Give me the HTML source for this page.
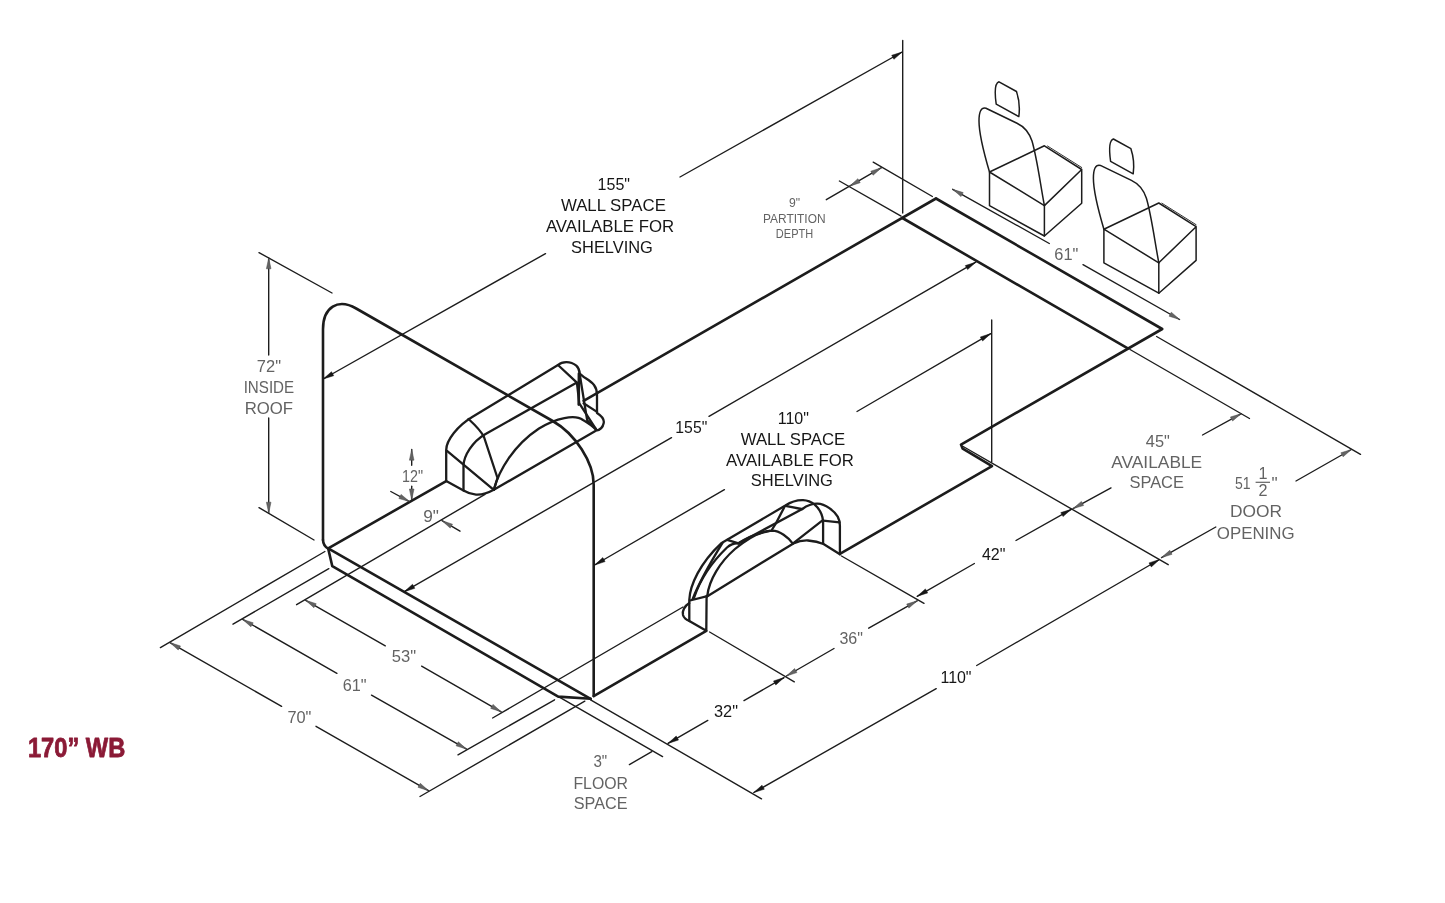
<!DOCTYPE html>
<html lang="en"><head><meta charset="utf-8"><title>170&quot; WB cargo dimensions</title>
<style>
html,body{margin:0;padding:0;background:#fff}
body{width:1445px;height:903px;overflow:hidden}
svg{display:block;transform:translateZ(0);will-change:transform}
svg path{fill:none;stroke-linecap:round;stroke-linejoin:round}
svg text{font-family:"Liberation Sans",sans-serif}
</style></head><body>
<svg width="1445" height="903" viewBox="0 0 1445 903">
<rect width="1445" height="903" fill="#fff"/>
<path d="M323,540 L323,329.3 C323,307.3 337.9,298 356.2,308.5 L552.7,421 C575.3,433.9 593.7,462.4 593.7,484.7 L593.7,696" stroke="#1c1c1c" stroke-width="2.6"/>
<path d="M323,540 Q323.2,545.8 328.2,548.6 L332.3,566.2 L558.2,696.6 L590.6,698.8" stroke="#1c1c1c" stroke-width="2.6"/>
<path d="M328.2,548.4 L590.6,698.8" stroke="#1c1c1c" stroke-width="2.6"/>
<path d="M328.2,548.4 L446.2,481.1" stroke="#1c1c1c" stroke-width="2.6"/>
<path d="M583.6,400.9 L936,198.5" stroke="#1c1c1c" stroke-width="2.6"/>
<path d="M936,198.5 L1162.2,329 L961,444.6 L962.7,448.7 L992,466.1 L840.3,553.6" stroke="#1c1c1c" stroke-width="2.6"/>
<path d="M902.4,218 L1127.8,348.4" stroke="#1c1c1c" stroke-width="2.6"/>
<path d="M706.3,630.8 L593.7,696.2" stroke="#1c1c1c" stroke-width="2.6"/>
<path d="M446.2,481.1 L446.2,450 C446.2,440.3 457.9,425.5 472.2,417 L558,365 C562,361.5 570,360.5 576.3,365.6 C579,368 579.5,371 579.8,373.5 C583,377.5 590,380 594,385 C596.6,388.5 597,391 597,394.8 L597,413 C601,415.5 604.5,419 603.7,423 C603,427 600,430 595.8,430.7 L493.8,489.8 C488,493 482,495 476,494.6 C470,494.2 466,492 463.5,490.5 L446.2,481.1" stroke="#1c1c1c" stroke-width="2.3"/>
<path d="M463.5,490.5 L463.5,466 C463.5,455.6 473,441.4 484.7,434.5 L576.9,382.6" stroke="#1c1c1c" stroke-width="2.3"/>
<path d="M447,450.9 L493.8,489.8" stroke="#1c1c1c" stroke-width="2.3"/>
<path d="M468.5,419 C474,424 481,431 484,437 L497.5,478 L493.8,489.8" stroke="#1c1c1c" stroke-width="2.3"/>
<path d="M493.8,489.8 C499,470 514,445 539,428.5 C556,418 575,414 583,420 C589,423.5 593,426.5 595.8,429.5" stroke="#1c1c1c" stroke-width="2.3"/>
<path d="M558,365 L576.9,382.6 L579.3,403.3 L595.8,428.9" stroke="#1c1c1c" stroke-width="2.3"/>
<path d="M578.9,373.5 L578.7,404.6" stroke="#1c1c1c" stroke-width="2.6"/>
<path d="M580,376 L587.2,420.4 L595.8,428.9" stroke="#1c1c1c" stroke-width="2.3"/>
<path d="M583.6,403.3 L597,411.9" stroke="#1c1c1c" stroke-width="2.3"/>
<path d="M689.3,621 L689.3,599.8 C690,585 700,563 721.2,543.3 L785.4,505.5 C790,502.5 797,500 803.1,500.2 C808,500.4 812,502.5 814.7,504.6 C819,508.5 822.5,515 823.1,521 L823.1,543.5" stroke="#1c1c1c" stroke-width="2.3"/>
<path d="M689.3,603 C684.5,606 682,611 683,615 C684,618.5 686.5,620 689.3,621 L706.3,630.8 L706.6,596" stroke="#1c1c1c" stroke-width="2.3"/>
<path d="M692.6,599.1 C700,580 712,560 722.5,542.9" stroke="#1c1c1c" stroke-width="2.3"/>
<path d="M694,597.8 C700,580 712,562 727,547.5 C731,544 735,543 738.5,543.3 L802.3,509" stroke="#1c1c1c" stroke-width="2.3"/>
<path d="M727.2,539.9 L738.5,543.3" stroke="#1c1c1c" stroke-width="2.3"/>
<path d="M738.5,543.3 C746,538 756,533.5 770,530.8" stroke="#1c1c1c" stroke-width="2.3"/>
<path d="M707.3,595.8 C709,580 720,562 735,549 C748,538 762,531 772,530.7 C780,530.8 788,537 792.8,543.6" stroke="#1c1c1c" stroke-width="2.3"/>
<path d="M690,600.5 L707.3,596.2" stroke="#1c1c1c" stroke-width="2.3"/>
<path d="M707,596.5 L793.4,543.4 C798,541.3 803,540.3 808,540.5 C814,541 820,542.5 823.5,544 L839.9,554.3" stroke="#1c1c1c" stroke-width="2.3"/>
<path d="M802.3,509 C808,505 813,503.6 817.3,503.7 C826,504 834,511 837.7,516.6 C839.5,520 839.9,523 839.9,525.4 L839.9,554.3" stroke="#1c1c1c" stroke-width="2.3"/>
<path d="M823.1,520.6 L839.5,522.3" stroke="#1c1c1c" stroke-width="2.3"/>
<path d="M793.4,543.1 L822.2,520.6" stroke="#1c1c1c" stroke-width="2.3"/>
<path d="M785.4,505.9 L801.4,509" stroke="#1c1c1c" stroke-width="2.3"/>
<path d="M784.5,506.8 L775.7,523.7 L772.1,529.5" stroke="#1c1c1c" stroke-width="2.3"/>
<path d="M996.2,104.2 C994.5,92 995,83 999,81.8 L1016.5,91.5 C1019,99 1020,108 1018.8,116.6 Z" stroke="#1c1c1c" stroke-width="1.5"/>
<path d="M989.5,172 C983,150 979,134 979,121 C979,112 981,107 986,108.2 L1017,123.2 C1024,126.5 1029,132 1032,141 C1037,158 1040,182 1044.4,205.6" stroke="#1c1c1c" stroke-width="1.5"/>
<path d="M989.5,172 L1044.4,145.8 L1081.7,169.5 L1044.4,205.6 L989.5,172 L989.5,205.6 L1044.4,236 L1081.7,203.2 L1081.7,169.5" stroke="#1c1c1c" stroke-width="1.5"/>
<path d="M1044.4,205.6 L1044.4,236" stroke="#1c1c1c" stroke-width="1.5"/>
<path d="M1047.5,146 L1081.7,167.5" stroke="#1c1c1c" stroke-width="0.9"/>
<path d="M1110.6,161.4 C1108.9,149.2 1109.4,140.2 1113.4,139 L1130.9,148.7 C1133.4,156.2 1134.4,165.2 1133.2,173.8 Z" stroke="#1c1c1c" stroke-width="1.5"/>
<path d="M1103.9,229.2 C1097.4,207.2 1093.4,191.2 1093.4,178.2 C1093.4,169.2 1095.4,164.2 1100.4,165.4 L1131.4,180.4 C1138.4,183.7 1143.4,189.2 1146.4,198.2 C1151.4,215.2 1154.4,239.2 1158.8,262.8" stroke="#1c1c1c" stroke-width="1.5"/>
<path d="M1103.9,229.2 L1158.8,203 L1196.1,226.7 L1158.8,262.8 L1103.9,229.2 L1103.9,262.8 L1158.8,293.2 L1196.1,260.4 L1196.1,226.7" stroke="#1c1c1c" stroke-width="1.5"/>
<path d="M1158.8,262.8 L1158.8,293.2" stroke="#1c1c1c" stroke-width="1.5"/>
<path d="M1161.9,203.2 L1196.1,224.7" stroke="#1c1c1c" stroke-width="0.9"/>
<path d="M259,252.6 L332,293" stroke="#1c1c1c" stroke-width="1.38"/>
<path d="M259,507.6 L314,540" stroke="#1c1c1c" stroke-width="1.38"/>
<path d="M268.7,258 L268.7,355" stroke="#1c1c1c" stroke-width="1.38"/>
<polygon points="268.7,258 271,268.8 266.4,268.8" fill="#636363" stroke="#4a4a4a" stroke-width="0.5" stroke-linejoin="miter"/>
<path d="M268.7,513 L268.7,418" stroke="#1c1c1c" stroke-width="1.38"/>
<polygon points="268.7,513 266.4,502.2 271,502.2" fill="#636363" stroke="#4a4a4a" stroke-width="0.5" stroke-linejoin="miter"/>
<text x="268.9" y="371.5" font-size="17.3" fill="#636363" text-anchor="middle" textLength="24.2" lengthAdjust="spacingAndGlyphs">72"</text>
<text x="268.9" y="392.6" font-size="17.3" fill="#636363" text-anchor="middle" textLength="50.5" lengthAdjust="spacingAndGlyphs">INSIDE</text>
<text x="268.9" y="413.6" font-size="17.3" fill="#636363" text-anchor="middle" textLength="48.4" lengthAdjust="spacingAndGlyphs">ROOF</text>
<path d="M323.2,379 L545.5,253.6" stroke="#1c1c1c" stroke-width="1.38"/>
<polygon points="323.2,379 331.5,371.7 333.7,375.7" fill="#161616" stroke="#161616" stroke-width="0.5" stroke-linejoin="miter"/>
<path d="M902.2,52 L680,177" stroke="#1c1c1c" stroke-width="1.38"/>
<polygon points="902.2,52 893.9,59.3 891.7,55.3" fill="#161616" stroke="#161616" stroke-width="0.5" stroke-linejoin="miter"/>
<path d="M902.7,40.5 L902.7,213" stroke="#1c1c1c" stroke-width="1.38"/>
<text x="613.8" y="190.3" font-size="17.3" fill="#161616" text-anchor="middle" textLength="32.4" lengthAdjust="spacingAndGlyphs">155"</text>
<text x="613.4" y="211.1" font-size="17.3" fill="#161616" text-anchor="middle" textLength="105" lengthAdjust="spacingAndGlyphs">WALL SPACE</text>
<text x="610" y="232.1" font-size="17.3" fill="#161616" text-anchor="middle" textLength="128.2" lengthAdjust="spacingAndGlyphs">AVAILABLE FOR</text>
<text x="612" y="253.2" font-size="17.3" fill="#161616" text-anchor="middle" textLength="81.8" lengthAdjust="spacingAndGlyphs">SHELVING</text>
<path d="M839.4,181 L901.1,216.1" stroke="#1c1c1c" stroke-width="1.38"/>
<path d="M873.2,162.1 L932.4,196.5" stroke="#1c1c1c" stroke-width="1.38"/>
<path d="M826.3,199.7 L881.5,167.7" stroke="#1c1c1c" stroke-width="1.38"/>
<polygon points="849.5,186.2 857.9,178.7 860.2,182.7" fill="#636363" stroke="#4a4a4a" stroke-width="0.5" stroke-linejoin="miter"/>
<polygon points="881.5,167.7 873.1,175.2 870.8,171.2" fill="#636363" stroke="#4a4a4a" stroke-width="0.5" stroke-linejoin="miter"/>
<text x="794.5" y="207" font-size="12.8" fill="#636363" text-anchor="middle" textLength="11.1" lengthAdjust="spacingAndGlyphs">9"</text>
<text x="794.3" y="222.7" font-size="12.8" fill="#636363" text-anchor="middle" textLength="62.5" lengthAdjust="spacingAndGlyphs">PARTITION</text>
<text x="794.5" y="238.4" font-size="12.8" fill="#636363" text-anchor="middle" textLength="37.3" lengthAdjust="spacingAndGlyphs">DEPTH</text>
<path d="M952.7,189.3 L1049.3,243.5" stroke="#1c1c1c" stroke-width="1.38"/>
<polygon points="952.7,189.3 963.2,192.6 961,196.6" fill="#636363" stroke="#4a4a4a" stroke-width="0.5" stroke-linejoin="miter"/>
<path d="M1179.6,319.5 L1083,264.7" stroke="#1c1c1c" stroke-width="1.38"/>
<polygon points="1179.6,319.5 1169.1,316.2 1171.3,312.2" fill="#636363" stroke="#4a4a4a" stroke-width="0.5" stroke-linejoin="miter"/>
<text x="1066.3" y="260.1" font-size="17.3" fill="#636363" text-anchor="middle" textLength="24" lengthAdjust="spacingAndGlyphs">61"</text>
<path d="M404.3,591.7 L671.5,437.6" stroke="#1c1c1c" stroke-width="1.38"/>
<polygon points="404.3,591.7 412.5,584.3 414.8,588.3" fill="#161616" stroke="#161616" stroke-width="0.5" stroke-linejoin="miter"/>
<path d="M975.8,262.2 L709,416.3" stroke="#1c1c1c" stroke-width="1.38"/>
<polygon points="975.8,262.2 967.6,269.6 965.3,265.6" fill="#161616" stroke="#161616" stroke-width="0.5" stroke-linejoin="miter"/>
<text x="691.3" y="432.9" font-size="17.3" fill="#161616" text-anchor="middle" textLength="31.9" lengthAdjust="spacingAndGlyphs">155"</text>
<path d="M594.6,565 L724.4,489.6" stroke="#1c1c1c" stroke-width="1.38"/>
<polygon points="594.6,565 602.8,557.6 605.1,561.6" fill="#161616" stroke="#161616" stroke-width="0.5" stroke-linejoin="miter"/>
<path d="M990.8,333.6 L857,411.5" stroke="#1c1c1c" stroke-width="1.38"/>
<polygon points="990.8,333.6 982.6,341 980.3,337" fill="#161616" stroke="#161616" stroke-width="0.5" stroke-linejoin="miter"/>
<path d="M991.7,320 L991.7,462" stroke="#1c1c1c" stroke-width="1.38"/>
<text x="793.3" y="424.2" font-size="17.3" fill="#161616" text-anchor="middle" textLength="31.3" lengthAdjust="spacingAndGlyphs">110"</text>
<text x="793" y="444.8" font-size="17.3" fill="#161616" text-anchor="middle" textLength="104.6" lengthAdjust="spacingAndGlyphs">WALL SPACE</text>
<text x="790" y="465.6" font-size="17.3" fill="#161616" text-anchor="middle" textLength="127.9" lengthAdjust="spacingAndGlyphs">AVAILABLE FOR</text>
<text x="791.9" y="486.4" font-size="17.3" fill="#161616" text-anchor="middle" textLength="82.1" lengthAdjust="spacingAndGlyphs">SHELVING</text>
<path d="M1130,349.5 L1249.5,418.5" stroke="#1c1c1c" stroke-width="1.38"/>
<path d="M963.2,446.5 L1168.2,564.7" stroke="#1c1c1c" stroke-width="1.38"/>
<path d="M1241,413.8 L1202.5,435" stroke="#1c1c1c" stroke-width="1.38"/>
<polygon points="1241,413.8 1232.6,421 1230.4,417" fill="#636363" stroke="#4a4a4a" stroke-width="0.5" stroke-linejoin="miter"/>
<path d="M1073,508.6 L1111,487.9" stroke="#1c1c1c" stroke-width="1.38"/>
<polygon points="1073,508.6 1081.4,501.4 1083.6,505.5" fill="#636363" stroke="#4a4a4a" stroke-width="0.5" stroke-linejoin="miter"/>
<text x="1157.8" y="447.1" font-size="17.3" fill="#636363" text-anchor="middle" textLength="24" lengthAdjust="spacingAndGlyphs">45"</text>
<text x="1156.7" y="467.9" font-size="17.3" fill="#636363" text-anchor="middle" textLength="91" lengthAdjust="spacingAndGlyphs">AVAILABLE</text>
<text x="1156.7" y="488.3" font-size="17.3" fill="#636363" text-anchor="middle" textLength="54.5" lengthAdjust="spacingAndGlyphs">SPACE</text>
<path d="M1156.6,336.5 L1360.5,454.3" stroke="#1c1c1c" stroke-width="1.38"/>
<path d="M1351.4,449.5 L1296,481" stroke="#1c1c1c" stroke-width="1.38"/>
<polygon points="1351.4,449.5 1343.1,456.8 1340.9,452.8" fill="#636363" stroke="#4a4a4a" stroke-width="0.5" stroke-linejoin="miter"/>
<path d="M1161.5,557.6 L1215.8,527" stroke="#1c1c1c" stroke-width="1.38"/>
<polygon points="1161.5,557.6 1169.8,550.3 1172,554.3" fill="#636363" stroke="#4a4a4a" stroke-width="0.5" stroke-linejoin="miter"/>
<path d="M1071.3,509.3 L1016,540.5" stroke="#1c1c1c" stroke-width="1.38"/>
<polygon points="1071.3,509.3 1063,516.6 1060.8,512.6" fill="#161616" stroke="#161616" stroke-width="0.5" stroke-linejoin="miter"/>
<path d="M917.2,596.3 L974.4,563.5" stroke="#1c1c1c" stroke-width="1.38"/>
<polygon points="917.2,596.3 925.4,588.9 927.7,592.9" fill="#161616" stroke="#161616" stroke-width="0.5" stroke-linejoin="miter"/>
<text x="993.7" y="559.6" font-size="17.3" fill="#161616" text-anchor="middle" textLength="23.5" lengthAdjust="spacingAndGlyphs">42"</text>
<path d="M841.5,556 L924,603.3" stroke="#1c1c1c" stroke-width="1.38"/>
<path d="M786.4,676 L834,648.5" stroke="#1c1c1c" stroke-width="1.38"/>
<polygon points="786.4,676 794.6,668.6 796.9,672.6" fill="#636363" stroke="#4a4a4a" stroke-width="0.5" stroke-linejoin="miter"/>
<path d="M917.2,600.8 L868.7,628.2" stroke="#1c1c1c" stroke-width="1.38"/>
<polygon points="917.2,600.8 908.9,608.1 906.7,604.1" fill="#636363" stroke="#4a4a4a" stroke-width="0.5" stroke-linejoin="miter"/>
<text x="851.2" y="643.9" font-size="17.3" fill="#636363" text-anchor="middle" textLength="23.5" lengthAdjust="spacingAndGlyphs">36"</text>
<path d="M709.6,632 L794.3,681.8" stroke="#1c1c1c" stroke-width="1.38"/>
<path d="M668,743.4 L707.8,720.4" stroke="#1c1c1c" stroke-width="1.38"/>
<polygon points="668,743.4 676.2,736 678.5,740" fill="#161616" stroke="#161616" stroke-width="0.5" stroke-linejoin="miter"/>
<path d="M784,677.6 L744,700.6" stroke="#1c1c1c" stroke-width="1.38"/>
<polygon points="784,677.6 775.8,685 773.5,681" fill="#161616" stroke="#161616" stroke-width="0.5" stroke-linejoin="miter"/>
<text x="726" y="716.9" font-size="17.3" fill="#161616" text-anchor="middle" textLength="24" lengthAdjust="spacingAndGlyphs">32"</text>
<path d="M590.6,699.8 L761.5,798.8" stroke="#1c1c1c" stroke-width="1.38"/>
<path d="M753.8,792.5 L936.2,688.7" stroke="#1c1c1c" stroke-width="1.38"/>
<polygon points="753.8,792.5 762,785.2 764.3,789.2" fill="#161616" stroke="#161616" stroke-width="0.5" stroke-linejoin="miter"/>
<path d="M1159.5,559.5 L976.7,665.5" stroke="#1c1c1c" stroke-width="1.38"/>
<polygon points="1159.5,559.5 1151.3,566.9 1149,562.9" fill="#161616" stroke="#161616" stroke-width="0.5" stroke-linejoin="miter"/>
<text x="956" y="682.9" font-size="17.3" fill="#161616" text-anchor="middle" textLength="31.1" lengthAdjust="spacingAndGlyphs">110"</text>
<path d="M558.9,696.9 L662.6,756.6" stroke="#1c1c1c" stroke-width="1.38"/>
<path d="M629.4,764.6 L651.8,751.6" stroke="#1c1c1c" stroke-width="1.38"/>
<text x="600.3" y="767" font-size="17.3" fill="#636363" text-anchor="middle" textLength="13.8" lengthAdjust="spacingAndGlyphs">3"</text>
<text x="600.7" y="788.8" font-size="17.3" fill="#636363" text-anchor="middle" textLength="54.6" lengthAdjust="spacingAndGlyphs">FLOOR</text>
<text x="600.7" y="809.2" font-size="17.3" fill="#636363" text-anchor="middle" textLength="53.8" lengthAdjust="spacingAndGlyphs">SPACE</text>
<path d="M683,607 L492.6,718" stroke="#1c1c1c" stroke-width="1.38"/>
<path d="M305.7,600.3 L385.3,645.8" stroke="#1c1c1c" stroke-width="1.38"/>
<polygon points="305.7,600.3 316.2,603.7 313.9,607.7" fill="#636363" stroke="#4a4a4a" stroke-width="0.5" stroke-linejoin="miter"/>
<path d="M501.2,711.8 L421.6,666.2" stroke="#1c1c1c" stroke-width="1.38"/>
<polygon points="501.2,711.8 490.7,708.4 493,704.4" fill="#636363" stroke="#4a4a4a" stroke-width="0.5" stroke-linejoin="miter"/>
<text x="404" y="662" font-size="17.3" fill="#636363" text-anchor="middle" textLength="24.3" lengthAdjust="spacingAndGlyphs">53"</text>
<path d="M554.6,699.8 L458,754.8" stroke="#1c1c1c" stroke-width="1.38"/>
<path d="M328.8,568.7 L233,624.2" stroke="#1c1c1c" stroke-width="1.38"/>
<path d="M242.7,619.4 L336.9,673.3" stroke="#1c1c1c" stroke-width="1.38"/>
<polygon points="242.7,619.4 253.2,622.8 250.9,626.8" fill="#636363" stroke="#4a4a4a" stroke-width="0.5" stroke-linejoin="miter"/>
<path d="M466.6,749.1 L371.5,695.2" stroke="#1c1c1c" stroke-width="1.38"/>
<polygon points="466.6,749.1 456.1,745.8 458.3,741.8" fill="#636363" stroke="#4a4a4a" stroke-width="0.5" stroke-linejoin="miter"/>
<text x="354.7" y="691" font-size="17.3" fill="#636363" text-anchor="middle" textLength="23.9" lengthAdjust="spacingAndGlyphs">61"</text>
<path d="M584.8,701.2 L420,796.5" stroke="#1c1c1c" stroke-width="1.38"/>
<path d="M324.9,551.5 L160.4,647.6" stroke="#1c1c1c" stroke-width="1.38"/>
<path d="M170,642.6 L281.6,706.4" stroke="#1c1c1c" stroke-width="1.38"/>
<polygon points="170,642.6 180.5,646 178.2,650" fill="#636363" stroke="#4a4a4a" stroke-width="0.5" stroke-linejoin="miter"/>
<path d="M428.5,790.7 L316,726.3" stroke="#1c1c1c" stroke-width="1.38"/>
<polygon points="428.5,790.7 418,787.3 420.3,783.3" fill="#636363" stroke="#4a4a4a" stroke-width="0.5" stroke-linejoin="miter"/>
<text x="299.4" y="723" font-size="17.3" fill="#636363" text-anchor="middle" textLength="24" lengthAdjust="spacingAndGlyphs">70"</text>
<path d="M296.6,604.7 L485,494.3" stroke="#1c1c1c" stroke-width="1.38"/>
<path d="M409.5,501.6 L390.8,491.5" stroke="#1c1c1c" stroke-width="1.38"/>
<polygon points="409.5,501.6 398.9,498.5 401.1,494.4" fill="#636363" stroke="#4a4a4a" stroke-width="0.5" stroke-linejoin="miter"/>
<path d="M442,520.7 L460,531.2" stroke="#1c1c1c" stroke-width="1.38"/>
<polygon points="442,520.7 452.5,524.2 450.2,528.1" fill="#636363" stroke="#4a4a4a" stroke-width="0.5" stroke-linejoin="miter"/>
<text x="431" y="521.9" font-size="17.3" fill="#636363" text-anchor="middle">9"</text>
<path d="M411.7,449.4 L411.7,465.3" stroke="#1c1c1c" stroke-width="1.38"/>
<polygon points="411.7,449.4 414,460.2 409.4,460.2" fill="#636363" stroke="#4a4a4a" stroke-width="0.5" stroke-linejoin="miter"/>
<path d="M411.7,499.8 L411.7,486.2" stroke="#1c1c1c" stroke-width="1.38"/>
<polygon points="411.7,499.8 409.4,489 414,489" fill="#636363" stroke="#4a4a4a" stroke-width="0.5" stroke-linejoin="miter"/>
<text x="412.6" y="481.9" font-size="17.3" fill="#636363" text-anchor="middle" textLength="21" lengthAdjust="spacingAndGlyphs">12"</text>
<!-- 51 1/2" door opening -->
<g fill="#636363">
<text x="1235" y="489.2" font-size="17.3" textLength="15.6" lengthAdjust="spacingAndGlyphs">51</text>
<text x="1263" y="479.4" font-size="16.2" text-anchor="middle">1</text>
<rect x="1255.6" y="481.7" width="14.4" height="1.2"/>
<text x="1262.9" y="496" font-size="16.2" text-anchor="middle">2</text>
<text x="1271.6" y="489.2" font-size="17.3">"</text>
<text x="1256" y="517" font-size="17.3" text-anchor="middle" textLength="52" lengthAdjust="spacingAndGlyphs">DOOR</text>
<text x="1255.7" y="538.6" font-size="17.3" text-anchor="middle" textLength="77.8" lengthAdjust="spacingAndGlyphs">OPENING</text>
</g>
<text x="27.9" y="756.6" font-size="27.8" font-weight="bold" fill="#8b1a36" stroke="#8b1a36" stroke-width="0.8" stroke-linejoin="round" textLength="97.4" lengthAdjust="spacingAndGlyphs">170&#8221; WB</text>
</svg>
</body></html>
